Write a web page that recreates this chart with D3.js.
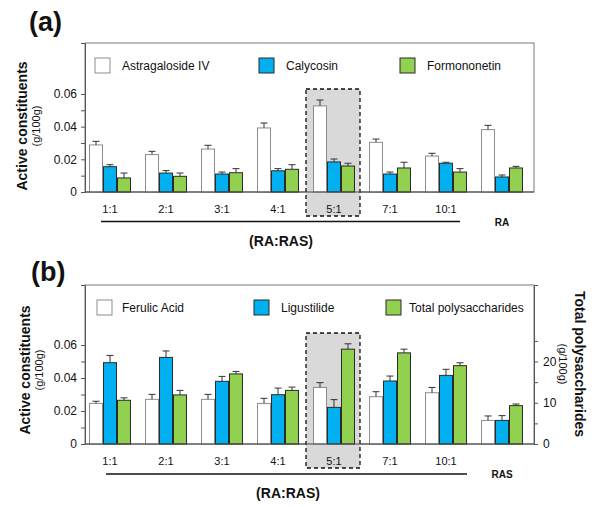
<!DOCTYPE html>
<html>
<head>
<meta charset="utf-8">
<script src="https://cdn.jsdelivr.net/npm/d3@7"></script>
<style>
  body { margin: 0; background: #fff; }
  text { font-family: Arial, "Liberation Sans", sans-serif; fill: #111; }
</style>
</head>
<body>
<svg id="chart" width="600" height="507"></svg>
<script>
// ---- data ----
var ratiosA = ['1:1', '2:1', '3:1', '4:1', '5:1', '7:1', '10:1', 'RA'];
var ratiosB = ['1:1', '2:1', '3:1', '4:1', '5:1', '7:1', '10:1', 'RAS'];
var highlight = '5:1';

var seriesA = ['Astragaloside IV', 'Calycosin', 'Formononetin'];
var astragalosideIV = [0.0288, 0.0229, 0.0263, 0.0392, 0.0527, 0.0304, 0.0220, 0.0382];
var astragalosideErr = [0.0022, 0.0020, 0.0023, 0.0030, 0.0036, 0.0020, 0.0017, 0.0026];
var calycosin = [0.0155, 0.0116, 0.0110, 0.0130, 0.0184, 0.0110, 0.0176, 0.0092];
var calycosinErr = [0.0012, 0.0015, 0.0012, 0.0013, 0.0018, 0.0012, 0.0006, 0.0012];
var formononetin = [0.0086, 0.0096, 0.0118, 0.0139, 0.0159, 0.0147, 0.0122, 0.0147];
var formononetinErr = [0.0030, 0.0020, 0.0025, 0.0028, 0.0017, 0.0035, 0.0021, 0.0010];

var seriesB = ['Ferulic Acid', 'Ligustilide', 'Total polysaccharides'];
var ferulicAcid = [0.0246, 0.0271, 0.0271, 0.0246, 0.0343, 0.0287, 0.0311, 0.0143];
var ferulicErr = [0.0013, 0.0030, 0.0030, 0.0031, 0.0029, 0.0030, 0.0032, 0.0027];
var ligustilide = [0.0493, 0.0525, 0.0380, 0.0299, 0.0222, 0.0382, 0.0416, 0.0143];
var ligustilideErr = [0.0044, 0.0039, 0.0030, 0.0040, 0.0047, 0.0030, 0.0037, 0.0029];
// total polysaccharides use the right-hand axis (g/100g)
var polysaccharides = [10.6, 11.9, 17.0, 13.0, 23.0, 22.1, 19.0, 9.3];
var polysaccharidesErr = [0.6, 1.1, 0.6, 0.8, 1.3, 0.9, 0.7, 0.4];

var leftTicks = [0, 0.01, 0.02, 0.03, 0.04, 0.05, 0.06];
var leftLabels = [0, 0.02, 0.04, 0.06];
var rightTicks = [0, 5, 10, 15, 20, 25];
var rightLabels = [0, 10, 20];

var FILLS = ['#ffffff', '#00b0f0', '#92d050'];
var STROKES = ['#8c8c8c', '#2b2b2b', '#2b2b2b'];

var svg = d3.select('#chart');
var LEFT = 85, RIGHT = 534;

function drawPanel(o) {
  var g = svg.append('g');
  var base = o.base;

  var y = d3.scaleLinear().domain([0, o.yMax]).range([base, o.top]);
  var yRight = o.rightMax ? d3.scaleLinear().domain([0, o.rightMax]).range([base, o.top]) : null;

  var x0 = d3.scaleBand().domain(o.categories).range([82, 530])
    .paddingInner(0.25).paddingOuter(0.125);
  var x1 = d3.scaleBand().domain(d3.range(o.series.length)).range([0, x0.bandwidth()]);

  // panel letter
  g.append('text').attr('x', o.letterX).attr('y', o.letterY)
    .style('font-size', '27px').style('font-weight', 'bold').text(o.letter);

  // frame
  g.append('rect').attr('x', LEFT).attr('y', o.top)
    .attr('width', RIGHT - LEFT).attr('height', base - o.top)
    .attr('fill', '#fff').attr('stroke', '#7a7a7a').attr('stroke-width', 1);

  // highlighted ratio
  g.append('rect')
    .attr('x', x0(highlight) - 7).attr('y', o.hlTop)
    .attr('width', x0.bandwidth() + 12).attr('height', base + 24 - o.hlTop)
    .attr('fill', '#d9d9d9').attr('stroke', '#111').attr('stroke-width', 1.3)
    .attr('stroke-dasharray', '4,3');

  // bars
  o.series.forEach(function(s, i) {
    var sc = s.right ? yRight : y;
    var rows = o.categories.map(function(c, k) {
      return { cat: c, v: s.values[k], e: s.errors[k] };
    });
    var sg = g.append('g');
    sg.selectAll('rect').data(rows).enter().append('rect')
      .attr('x', function(d) { return x0(d.cat) + x1(i) + 0.5; })
      .attr('y', function(d) { return sc(d.v); })
      .attr('width', x1.bandwidth() - 1)
      .attr('height', function(d) { return base - sc(d.v); })
      .attr('fill', FILLS[i]).attr('stroke', STROKES[i]).attr('stroke-width', 1);

    var eg = sg.selectAll('g.err').data(rows).enter().append('g').attr('class', 'err')
      .attr('stroke', '#333').attr('stroke-width', 1);
    eg.append('line')
      .attr('x1', function(d) { return x0(d.cat) + x1(i) + x1.bandwidth() / 2; })
      .attr('x2', function(d) { return x0(d.cat) + x1(i) + x1.bandwidth() / 2; })
      .attr('y1', function(d) { return sc(d.v); })
      .attr('y2', function(d) { return sc(d.v + d.e); });
    eg.append('line')
      .attr('x1', function(d) { return x0(d.cat) + x1(i) + x1.bandwidth() / 2 - 3.5; })
      .attr('x2', function(d) { return x0(d.cat) + x1(i) + x1.bandwidth() / 2 + 3.5; })
      .attr('y1', function(d) { return sc(d.v + d.e); })
      .attr('y2', function(d) { return sc(d.v + d.e); });
  });

  // baseline
  g.append('line').attr('x1', LEFT).attr('x2', RIGHT).attr('y1', base).attr('y2', base)
    .attr('stroke', '#444').attr('stroke-width', 1.2);

  // left axis
  var yAxis = d3.axisLeft(y).tickValues(leftTicks).tickSize(4).tickPadding(4)
    .tickFormat(function(v) {
      var lab = leftLabels.some(function(l) { return Math.abs(l - v) < 1e-9; });
      return lab ? (v === 0 ? '0' : d3.format('.2f')(v)) : '';
    });
  var ya = g.append('g').attr('transform', 'translate(' + LEFT + ',0)').call(yAxis);
  ya.select('.domain').attr('stroke', '#555');
  ya.selectAll('.tick line').attr('stroke', '#555');
  ya.selectAll('text').style('font-size', '12px').attr('fill', '#111').style('font-family', 'Arial, "Liberation Sans", sans-serif');

  // right axis
  if (yRight) {
    var rAxis = d3.axisRight(yRight).tickValues(rightTicks).tickSize(4).tickPadding(5)
      .tickFormat(function(v) { return rightLabels.indexOf(v) >= 0 ? v : ''; });
    var ra = g.append('g').attr('transform', 'translate(' + RIGHT + ',0)').call(rAxis);
    ra.select('.domain').attr('stroke', '#555');
    ra.selectAll('.tick line').attr('stroke', '#555');
    ra.selectAll('text').style('font-size', '12px').attr('fill', '#111').style('font-family', 'Arial, "Liberation Sans", sans-serif');
  }

  // category labels
  var n = o.categories.length;
  g.selectAll('text.cat').data(o.categories.slice(0, n - 1)).enter().append('text')
    .attr('class', 'cat')
    .attr('x', function(d) { return x0(d) + x0.bandwidth() / 2; })
    .attr('y', base + 21)
    .attr('text-anchor', 'middle').style('font-size', '11px')
    .text(function(d) { return d; });
  g.append('text')
    .attr('x', x0(o.categories[n - 1]) + x0.bandwidth() / 2)
    .attr('y', o.lineY + 4)
    .attr('text-anchor', 'middle').style('font-size', '10px').style('font-weight', 'bold')
    .text(o.categories[n - 1]);
  g.append('line').attr('x1', o.lineX[0]).attr('x2', o.lineX[1])
    .attr('y1', o.lineY).attr('y2', o.lineY).attr('stroke', '#111').attr('stroke-width', 1.3);
  g.append('text').attr('x', o.groupX).attr('y', o.lineY + 24)
    .attr('text-anchor', 'middle').style('font-size', '14px').style('font-weight', 'bold')
    .text('(RA:RAS)');

  // y titles
  g.append('text')
    .attr('transform', 'translate(' + (o.titleX + 10) + ',' + o.titleY + ') rotate(-90)')
    .attr('text-anchor', 'middle').style('font-size', '14px').style('font-weight', 'bold')
    .text('Active constituents');
  g.append('text')
    .attr('transform', 'translate(' + (o.titleX + 23) + ',' + o.titleY + ') rotate(-90)')
    .attr('text-anchor', 'middle').style('font-size', '11px')
    .text('(g/100g)');
  if (yRight) {
    g.append('text')
      .attr('transform', 'translate(575,' + o.rightTitleY + ') rotate(90)')
      .attr('text-anchor', 'middle').style('font-size', '14px').style('font-weight', 'bold')
      .text('Total polysaccharides');
    g.append('text')
      .attr('transform', 'translate(559,' + o.rightTitleY + ') rotate(90)')
      .attr('text-anchor', 'middle').style('font-size', '11px')
      .text('(g/100g)');
  }

  // legend
  o.series.forEach(function(s, i) {
    g.append('rect').attr('x', o.legendX[i]).attr('y', o.legendY)
      .attr('width', 15).attr('height', 15)
      .attr('fill', FILLS[i]).attr('stroke', STROKES[i]).attr('stroke-width', 1);
    g.append('text').attr('x', o.legendX[i] + o.legendGap[i]).attr('y', o.legendY + 12)
      .style('font-size', '12px').text(s.name);
  });
}

drawPanel({
  letter: '(a)', letterX: 29, letterY: 31,
  top: 43, base: 192, yMax: 0.0912, hlTop: 89,
  categories: ratiosA,
  series: [
    { name: seriesA[0], values: astragalosideIV, errors: astragalosideErr },
    { name: seriesA[1], values: calycosin, errors: calycosinErr },
    { name: seriesA[2], values: formononetin, errors: formononetinErr }
  ],
  lineX: [101, 460], lineY: 221.5, groupX: 281,
  titleX: 17, titleY: 126,
  legendX: [95, 259, 400], legendGap: [27, 27, 27], legendY: 58
});

drawPanel({
  letter: '(b)', letterX: 31, letterY: 281,
  top: 285, base: 444, yMax: 0.0964, rightMax: 0.0964 * 400, hlTop: 333,
  categories: ratiosB,
  series: [
    { name: seriesB[0], values: ferulicAcid, errors: ferulicErr },
    { name: seriesB[1], values: ligustilide, errors: ligustilideErr },
    { name: seriesB[2], values: polysaccharides, errors: polysaccharidesErr, right: true }
  ],
  lineX: [106, 467], lineY: 474, groupX: 288,
  titleX: 20, titleY: 370, rightTitleY: 364,
  legendX: [97, 254, 386], legendGap: [25, 27, 23], legendY: 300
});
</script>
</body>
</html>
